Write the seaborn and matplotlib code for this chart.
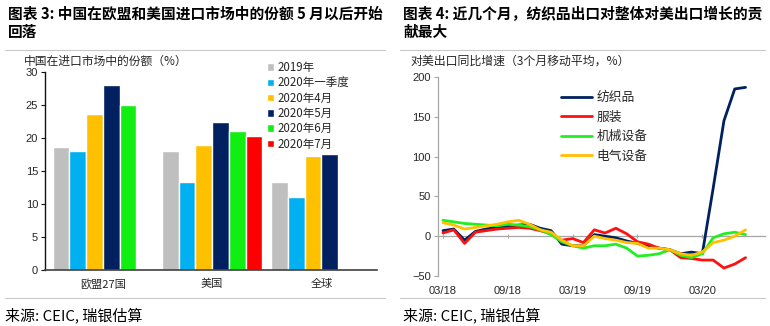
import numpy as np
import pandas as pd
import matplotlib
matplotlib.use("Agg")
import matplotlib.pyplot as plt
from matplotlib.lines import Line2D
import seaborn as sns

# ---------------- data: bar chart ----------------
regions = ['欧盟27国', '美国', '全球']
periods = ['2019年', '2020年一季度', '2020年4月', '2020年5月', '2020年6月', '2020年7月']
share_2019 = [18.7, 18.0, 13.4]
share_2020q1 = [18.0, 13.4, 11.1]
share_2020apr = [23.6, 18.9, 17.3]
share_2020may = [28.1, 22.4, 17.6]
share_2020jun = [25.0, 21.0, np.nan]
share_2020jul = [np.nan, 20.3, np.nan]
bar_colors = ['#BFBFBF', '#00B0F0', '#FFC000', '#002060', '#11EE11', '#FF0000']

# ---------------- data: line chart ----------------
months = ['03/18', '04/18', '05/18', '06/18', '07/18', '08/18', '09/18', '10/18', '11/18',
          '12/18', '01/19', '02/19', '03/19', '04/19', '05/19', '06/19', '07/19', '08/19',
          '09/19', '10/19', '11/19', '12/19', '01/20', '02/20', '03/20', '04/20', '05/20',
          '06/20', '07/20']
tick_months = ['03/18', '09/18', '03/19', '09/19', '03/20']
series_names = ['纺织品', '服装', '机械设备', '电气设备']
textiles = [7, 9, -5, 6, 9, 11, 12, 14, 15, 10, 7, -10, -12, -12, 2, 0, -2, -6, -9,
            -13, -15, -17, -22, -20, -22, 60, 145, 185, 187]
apparel = [4, 8, -9, 5, 7, 9, 10, 11, 10, 7, 3, -5, -3, -8, 8, 4, 10, 3, -7,
           -10, -15, -17, -27, -28, -30, -30, -40, -35, -27]
machinery = [20, 18, 16, 15, 14, 13, 15, 14, 12, 8, 2, -7, -12, -15, -12, -12, -10, -15, -25,
             -24, -22, -17, -24, -27, -22, -2, 3, 5, 2]
electrical = [17, 14, 9, 11, 13, 15, 18, 20, 15, 8, 5, -5, -12, -12, 0, -3, -5, -8, -9,
              -15, -15, -17, -22, -24, -20, -8, -5, 0, 8]
line_colors = ['#002060', '#FF1010', '#22EE22', '#FFC000']

# ---------------- tables ----------------
share_cols = [share_2019, share_2020q1, share_2020apr, share_2020may, share_2020jun, share_2020jul]
df_bar = pd.DataFrame([
    {'region': r, 'period': p, 'share': vals[i]}
    for p, vals in zip(periods, share_cols) for i, r in enumerate(regions)
])
line_cols = [textiles, apparel, machinery, electrical]
df_line = pd.DataFrame([
    {'m': i, 'month': months[i], 'series': s, 'value': vals[i]}
    for s, vals in zip(series_names, line_cols) for i in range(len(months))
])

sns.set_style('white')
plt.rcParams['font.family'] = ['Liberation Sans', 'Noto Sans CJK SC', 'DejaVu Sans']
CJK = ['Noto Sans CJK SC', 'DejaVu Sans']
TXT = '#262626'

W, H = 770, 326
fig = plt.figure(figsize=(W / 100, H / 100), dpi=100)

def fx(x):
    return x / W

def fy(y):
    return 1 - y / H

# ---------------- bar chart ----------------
ax1 = fig.add_axes([fx(45), fy(270), 332 / W, 198 / H])
sns.barplot(data=df_bar, x='region', y='share', hue='period', order=regions,
            hue_order=periods, palette=bar_colors, width=0.92, saturation=1,
            errorbar=None, ax=ax1)
ax1.set_xlim(-0.53, 2.51)
ax1.set_ylim(0, 30)
ax1.set_yticks(range(0, 31, 5))
ax1.set_xlabel('')
ax1.set_ylabel('')
for s in ['top', 'right']:
    ax1.spines[s].set_visible(False)
ax1.spines['left'].set_color('#111111')
ax1.spines['left'].set_linewidth(1.0)
ax1.spines['bottom'].set_color('#404040')
ax1.spines['bottom'].set_linewidth(1.2)
ax1.tick_params(axis='y', which='both', left=True, length=3, width=0.8, color='#111111',
                labelsize=8, labelcolor=TXT, pad=2)
ax1.tick_params(axis='x', length=0, labelsize=8, labelcolor=TXT, pad=6)
for lab in ax1.get_xticklabels():
    lab.set_family(CJK)
h1, l1 = ax1.get_legend_handles_labels()
ax1.legend(h1, l1, loc='upper left', bbox_to_anchor=(fx(267), fy(61)),
           bbox_transform=fig.transFigure, frameon=False,
           handlelength=0.6, handleheight=0.6, handletextpad=0.3, labelspacing=0.2,
           borderpad=0, borderaxespad=0, prop={'family': CJK, 'size': 8.3})

# ---------------- line chart ----------------
ax2 = fig.add_axes([fx(438), fy(276), 327 / W, 199 / H])
sns.lineplot(data=df_line, x='m', y='value', hue='series', hue_order=series_names,
             palette=line_colors, linewidth=2.0, ax=ax2)
ax2.set_xlim(-0.46, 29.8)
ax2.set_ylim(-50, 200)
ax2.set_yticks(range(-50, 201, 50))
ax2.set_xticks([months.index(t) for t in tick_months])
ax2.set_xticklabels(tick_months)
ax2.set_xlabel('')
ax2.set_ylabel('')
for s in ['top', 'right']:
    ax2.spines[s].set_visible(False)
ax2.spines['left'].set_color('#A6A6A6')
ax2.spines['left'].set_linewidth(0.9)
ax2.spines['bottom'].set_position(('data', 0))
ax2.spines['bottom'].set_color('#A6A6A6')
ax2.spines['bottom'].set_linewidth(0.9)
ax2.spines['bottom'].set_zorder(0.5)
ax2.tick_params(axis='y', left=True, length=3, width=0.8, color='#A6A6A6',
                labelsize=8, labelcolor=TXT, pad=2)
ax2.tick_params(axis='x', bottom=True, direction='inout', length=3, width=0.8,
                color='#A6A6A6', labelsize=8, labelcolor=TXT, pad=34)
h2, l2 = ax2.get_legend_handles_labels()
ax2.legend(h2, l2, loc='upper left', bbox_to_anchor=(fx(561), fy(91)),
           bbox_transform=fig.transFigure, frameon=False,
           handlelength=2.4, handletextpad=0.4, labelspacing=0.52,
           borderpad=0, borderaxespad=0, prop={'family': CJK, 'size': 9.2})

# ---------------- text & decorations ----------------
TS = 10.6
fig.text(fx(8), fy(14), '图表 3: 中国在欧盟和美国进口市场中的份额 5 月以后开始', family=CJK,
         fontsize=TS, fontweight='bold', va='center', ha='left', color='black')
fig.text(fx(8), fy(32), '回落', family=CJK, fontsize=TS, fontweight='bold',
         va='center', ha='left', color='black')
fig.text(fx(403), fy(14), '图表 4: 近几个月，纺织品出口对整体对美出口增长的贡', family=CJK,
         fontsize=TS, fontweight='bold', va='center', ha='left', color='black')
fig.text(fx(403), fy(32), '献最大', family=CJK, fontsize=TS, fontweight='bold',
         va='center', ha='left', color='black')

fig.text(fx(24), fy(61), '中国在进口市场中的份额（%）', family=CJK, fontsize=8.5,
         va='center', ha='left', color=TXT)
fig.text(fx(410), fy(61), '对美出口同比增速（3个月移动平均，%）', family=CJK, fontsize=8.6,
         va='center', ha='left', color=TXT)

fig.text(fx(5), fy(315), '来源: CEIC, 瑞银估算', family=CJK, fontsize=10.8,
         va='center', ha='left', color='black')
fig.text(fx(403), fy(315), '来源: CEIC, 瑞银估算', family=CJK, fontsize=10.8,
         va='center', ha='left', color='black')

for (x0, x1) in [(5, 385), (400, 765)]:
    for yy in (50, 298):
        fig.add_artist(Line2D([fx(x0), fx(x1)], [fy(yy), fy(yy)], color='#C8C8C8',
                              linewidth=0.8, transform=fig.transFigure))

fig.savefig('out.png', dpi=100)
